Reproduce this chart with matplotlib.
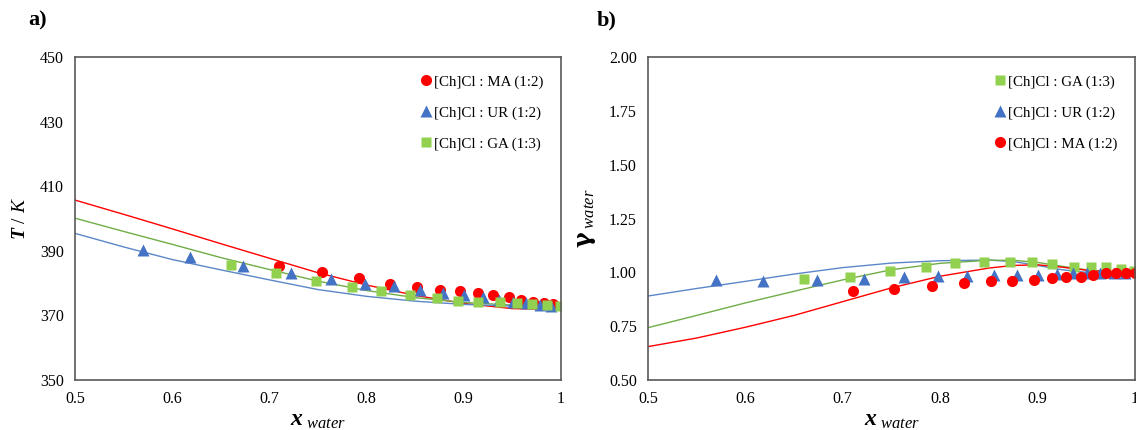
import matplotlib
matplotlib.use('Agg')
import matplotlib.pyplot as plt

plt.rcParams['font.family'] = ['Liberation Serif', 'DejaVu Serif']
plt.rcParams['mathtext.fontset'] = 'custom'
plt.rcParams['mathtext.rm'] = 'Liberation Serif'
plt.rcParams['mathtext.it'] = 'Liberation Serif:italic'
plt.rcParams['mathtext.bf'] = 'DejaVu Serif:bold'
plt.rcParams['mathtext.bfit'] = 'Liberation Serif:bold:italic'

# ---------------- data: experimental points ----------------
# [Ch]Cl : MA (1:2)
ma_x = [0.710, 0.754, 0.792, 0.824, 0.852, 0.875, 0.896, 0.915, 0.930, 0.946, 0.959, 0.971, 0.982, 0.992]
ma_T = [385.4, 383.4, 381.5, 379.8, 378.7, 378.0, 377.4, 376.9, 376.2, 375.7, 374.8, 374.3, 373.9, 373.6]
ma_gx = [0.710, 0.753, 0.792, 0.824, 0.852, 0.874, 0.896, 0.915, 0.929, 0.945, 0.957, 0.970, 0.981, 0.991, 1.000]
ma_g = [0.911, 0.923, 0.938, 0.952, 0.962, 0.959, 0.966, 0.974, 0.977, 0.980, 0.987, 0.997, 0.997, 0.996, 0.996]

# [Ch]Cl : UR (1:2)
ur_x = [0.570, 0.618, 0.673, 0.722, 0.763, 0.798, 0.828, 0.855, 0.879, 0.900, 0.920, 0.936, 0.951, 0.964, 0.978, 0.990]
ur_T = [390.3, 388.0, 385.2, 383.1, 381.3, 379.8, 379.0, 377.9, 376.9, 376.4, 375.6, 374.8, 374.3, 373.8, 373.3, 373.0]
ur_g = [0.965, 0.962, 0.965, 0.971, 0.977, 0.983, 0.985, 0.987, 0.987, 0.987, 0.993, 0.996, 0.996, 0.996, 0.996, 0.996]

# [Ch]Cl : GA (1:3)
ga_x = [0.660, 0.707, 0.748, 0.785, 0.815, 0.845, 0.872, 0.894, 0.915, 0.937, 0.955, 0.970, 0.986, 0.999]
ga_T = [385.6, 383.2, 380.8, 378.9, 377.4, 376.2, 375.3, 374.6, 374.3, 374.0, 373.8, 373.5, 373.2, 372.9]
ga_g = [0.968, 0.980, 1.004, 1.024, 1.042, 1.047, 1.047, 1.050, 1.039, 1.027, 1.024, 1.024, 1.014, 1.005]

# ---------------- data: model curves ----------------
fit_x = [0.50, 0.55, 0.60, 0.65, 0.70, 0.75, 0.80, 0.85, 0.90, 0.95, 1.00]
ma_T_fit = [405.7, 401.3, 396.8, 392.2, 387.7, 383.2, 379.4, 376.2, 373.7, 372.1, 371.8]
ga_T_fit = [400.1, 396.0, 392.0, 387.9, 384.2, 380.6, 377.7, 375.5, 374.0, 373.2, 373.0]
ur_T_fit = [395.4, 391.2, 387.3, 384.1, 381.0, 378.0, 375.9, 374.4, 373.4, 372.9, 372.8]

g_fit_x = [0.50, 0.55, 0.60, 0.65, 0.70, 0.75, 0.80, 0.85, 0.875, 0.90, 0.925, 0.95, 0.975, 1.00]
ur_g_fit = [0.890, 0.925, 0.958, 0.992, 1.022, 1.043, 1.054, 1.057, 1.050, 1.032, 1.012, 1.000, 0.997, 0.996]
ga_g_fit = [0.743, 0.800, 0.858, 0.912, 0.965, 1.012, 1.042, 1.056, 1.056, 1.046, 1.028, 1.012, 1.003, 1.000]
ma_g_fit = [0.655, 0.695, 0.745, 0.800, 0.864, 0.928, 0.982, 1.020, 1.032, 1.035, 1.024, 1.010, 1.002, 1.000]

RED = '#FF0000'
BLUE = '#4472C4'
GREEN = '#92D050'
LBLUE = '#5B87C9'
LGREEN = '#70AD47'

fig = plt.figure(figsize=(11.36, 4.30), dpi=100)
ax1 = fig.add_axes([75/1136, 50/430, 486/1136, 323/430])
ax2 = fig.add_axes([648/1136, 50/430, 487/1136, 323/430])

def style_axes(ax):
    for s in ax.spines.values():
        s.set_color('#595959')
        s.set_linewidth(1.2)
    ax.tick_params(length=0, labelsize=11.5, pad=8)
    ax.set_xlim(0.5, 1.0)

leg_kw = dict(loc='upper right', frameon=False, fontsize=10.8, handletextpad=0.0,
              labelspacing=1.16, handlelength=1.0, borderaxespad=0.8)

# ---------------- panel a ----------------
ax1.plot(fit_x, ma_T_fit, color=RED, lw=1.0)
ax1.plot(fit_x, ga_T_fit, color=LGREEN, lw=1.0)
ax1.plot(fit_x, ur_T_fit, color=LBLUE, lw=1.0)
ax1.plot(ma_x, ma_T, 'o', color=RED, ms=8, mec='none', label='[Ch]Cl : MA (1:2)')
ax1.plot(ur_x, ur_T, '^', color=BLUE, ms=8, mec='none', label='[Ch]Cl : UR (1:2)')
ax1.plot(ga_x, ga_T, 's', color=GREEN, ms=7.5, mec='none', label='[Ch]Cl : GA (1:3)')
style_axes(ax1)
ax1.set_ylim(350, 450)
ax1.set_yticks([350, 370, 390, 410, 430, 450])
ax1.set_xticks([0.5, 0.6, 0.7, 0.8, 0.9, 1.0])
ax1.set_xticklabels(['0.5', '0.6', '0.7', '0.8', '0.9', '1'])
ax1.set_ylabel(r'$\mathbfit{T}$ / $\mathit{K}$', fontsize=14, labelpad=8)
ax1.set_xlabel(r'$\mathbfit{x}_{\ \mathit{water}}$', fontsize=17, labelpad=2)
ax1.legend(**leg_kw)
fig.text(28/1136, 1 - 20/430, 'a)', fontsize=16, fontweight='bold', va='center')

# ---------------- panel b ----------------
ax2.plot(g_fit_x, ur_g_fit, color=LBLUE, lw=1.0)
ax2.plot(g_fit_x, ga_g_fit, color=LGREEN, lw=1.0)
ax2.plot(g_fit_x, ma_g_fit, color=RED, lw=1.0)
ax2.plot(ga_x, ga_g, 's', color=GREEN, ms=7.5, mec='none', label='[Ch]Cl : GA (1:3)')
ax2.plot(ur_x, ur_g, '^', color=BLUE, ms=8, mec='none', label='[Ch]Cl : UR (1:2)')
ax2.plot(ma_gx, ma_g, 'o', color=RED, ms=8, mec='none', label='[Ch]Cl : MA (1:2)', clip_on=False)
style_axes(ax2)
ax2.set_ylim(0.5, 2.0)
ax2.set_yticks([0.5, 0.75, 1.0, 1.25, 1.5, 1.75, 2.0])
ax2.set_yticklabels(['0.50', '0.75', '1.00', '1.25', '1.50', '1.75', '2.00'])
ax2.set_xticks([0.5, 0.6, 0.7, 0.8, 0.9, 1.0])
ax2.set_xticklabels(['0.5', '0.6', '0.7', '0.8', '0.9', '1'])
ax2.set_ylabel(r'$\mathbf{\gamma}_{\ \mathit{water}}$', fontsize=17, labelpad=8)
ax2.set_xlabel(r'$\mathbfit{x}_{\ \mathit{water}}$', fontsize=17, labelpad=2)
ax2.legend(**leg_kw)
fig.text(597/1136, 1 - 20/430, 'b)', fontsize=16, fontweight='bold', va='center')

fig.savefig('out.png', dpi=100)
